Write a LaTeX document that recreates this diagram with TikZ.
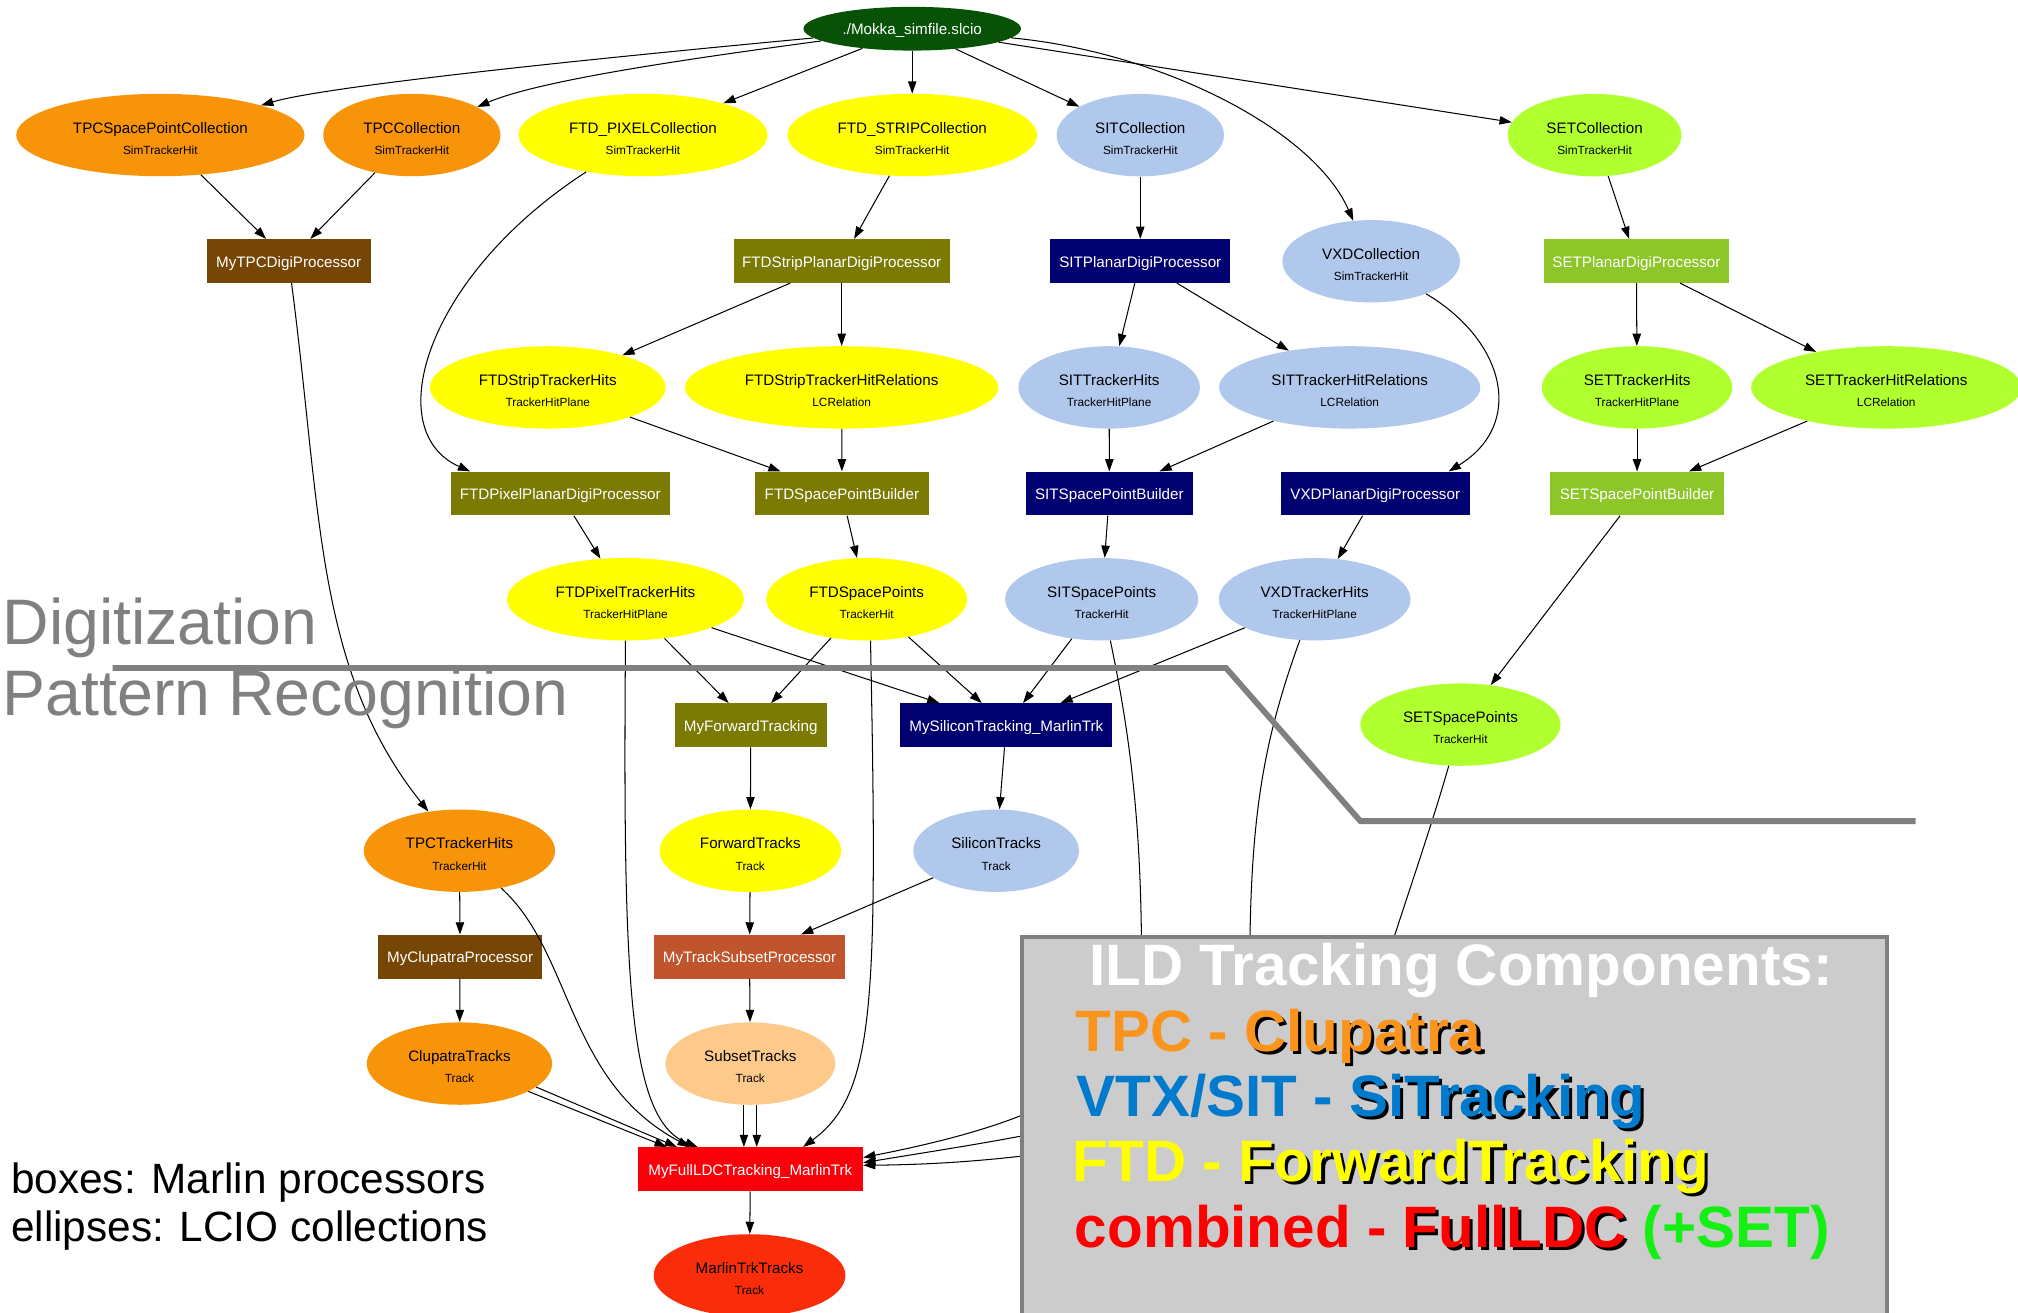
\documentclass[tikz,border=0pt]{standalone}
\usepackage{fontspec}
\setmainfont{Liberation Sans}
\usetikzlibrary{shapes.geometric,arrows.meta}
\definecolor{corange}{RGB}{248,148,10}
\definecolor{cyellow}{RGB}{255,255,0}
\definecolor{cblue}{RGB}{176,200,236}
\definecolor{cgy}{RGB}{176,255,46}
\definecolor{cmokka}{RGB}{8,82,8}
\definecolor{cbrown}{RGB}{117,70,6}
\definecolor{colive}{RGB}{122,122,4}
\definecolor{cnavy}{RGB}{0,0,112}
\definecolor{cyg}{RGB}{140,198,40}
\definecolor{csienna}{RGB}{192,84,44}
\definecolor{cpeach}{RGB}{253,202,140}
\definecolor{cred}{RGB}{250,0,10}
\definecolor{cmarlin}{RGB}{250,45,10}
\definecolor{cgray}{RGB}{128,128,128}
\definecolor{cbox}{RGB}{204,204,204}
\definecolor{ttpc}{RGB}{250,148,28}
\definecolor{tblue}{RGB}{0,122,204}
\definecolor{tyellow}{RGB}{255,255,0}
\definecolor{tred}{RGB}{255,0,0}
\definecolor{tgreen}{RGB}{20,240,20}
\newcommand\mkcoll[7]{%
  \node[coll, fill=#5, minimum width=#4pt] (#1) at (#2,#3) {};
  \node[mainlab] (#1-m) at ([yshift=1.5pt]#1.center) {#6};
  \node[sublab] (#1-s) at ([yshift=-15pt]#1.center) {#7};
}
\newcommand\mkproc[6]{%
  \node[proc, fill=#5, minimum width=#4pt] (#1) at (#2,#3) {#6};
}
\newcommand\shw[2]{\leavevmode\rlap{\hspace{2.5pt}\raisebox{-2.5pt}{\color{black}#2}}{\color{#1}#2}}
\begin{document}
\begin{tikzpicture}[x=1pt,y=-1pt,
  coll/.style={ellipse, draw=none, inner sep=0pt, minimum height=64pt},
  mainlab/.style={inner sep=0pt, anchor=base, font=\fontsize{11.8}{14}\selectfont},
  sublab/.style={inner sep=0pt, anchor=base, font=\fontsize{9.2}{11}\selectfont},
  proc/.style={rectangle, draw=none, inner sep=0pt, minimum height=34pt, text=white,
    font=\fontsize{11.8}{14}\selectfont, text height=9.7pt, text depth=0pt},
  conn/.style={draw=black, line width=0.8pt, -{Triangle[length=9.5pt,width=6.5pt]}},
  phase/.style={inner sep=0pt, anchor=base west, text=cgray, font=\fontsize{50}{60}\selectfont},
  legend/.style={inner sep=0pt, anchor=base west, text=black, font=\fontsize{32.9}{38}\selectfont},
  ildtext/.style={inner sep=0pt, anchor=base west, font=\fontsize{45.4}{54}\selectfont\bfseries}
]
\useasboundingbox (0,0) rectangle (1568,1020);
\fill[white] (0,0) rectangle (1568,1020);

% source
\node[coll, fill=cmokka, minimum width=169pt, minimum height=34pt] (mokka) at (708.8,22.3) {};
\node[mainlab, text=white] (mokka-t) at ([yshift=-4.3pt]mokka.center) {./Mokka\_simfile.slcio};

% collections
\mkcoll{tpcsp}{124.6}{104.9}{224}{corange}{TPCSpacePointCollection}{SimTrackerHit}
\mkcoll{tpcc}{320}{104.9}{137.7}{corange}{TPCCollection}{SimTrackerHit}
\mkcoll{ftdpix}{499.6}{104.9}{193.6}{cyellow}{FTD\_PIXELCollection}{SimTrackerHit}
\mkcoll{ftdstrip}{708.8}{104.9}{194}{cyellow}{FTD\_STRIPCollection}{SimTrackerHit}
\mkcoll{sitc}{886}{105}{130}{cblue}{SITCollection}{SimTrackerHit}
\mkcoll{setc}{1239}{105}{135}{cgy}{SETCollection}{SimTrackerHit}
\mkcoll{vxdc}{1065.4}{203}{138}{cblue}{VXDCollection}{SimTrackerHit}
\mkcoll{fsth}{425.6}{301}{183}{cyellow}{FTDStripTrackerHits}{TrackerHitPlane}
\mkcoll{fstr}{654}{301}{243.5}{cyellow}{FTDStripTrackerHitRelations}{LCRelation}
\mkcoll{sith}{861.8}{301}{141}{cblue}{SITTrackerHits}{TrackerHitPlane}
\mkcoll{sitr}{1048.7}{301}{203}{cblue}{SITTrackerHitRelations}{LCRelation}
\mkcoll{seth}{1272}{301}{148}{cgy}{SETTrackerHits}{TrackerHitPlane}
\mkcoll{setr}{1465.6}{301}{210}{cgy}{SETTrackerHitRelations}{LCRelation}
\mkcoll{fpth}{486}{465.6}{184}{cyellow}{FTDPixelTrackerHits}{TrackerHitPlane}
\mkcoll{ftdsp}{673.4}{465.6}{156}{cyellow}{FTDSpacePoints}{TrackerHit}
\mkcoll{sitsp}{856}{465.6}{150}{cblue}{SITSpacePoints}{TrackerHit}
\mkcoll{vxdth}{1021.5}{465.6}{149}{cblue}{VXDTrackerHits}{TrackerHitPlane}
\mkcoll{setsp}{1134.8}{563}{155.5}{cgy}{SETSpacePoints}{TrackerHit}
\mkcoll{tpcth}{357}{661}{148.6}{corange}{TPCTrackerHits}{TrackerHit}
\mkcoll{fwdt}{583}{661}{141}{cyellow}{ForwardTracks}{Track}
\mkcoll{silt}{774}{661}{128.7}{cblue}{SiliconTracks}{Track}
\mkcoll{clupt}{357}{826.4}{144}{corange}{ClupatraTracks}{Track}
\mkcoll{subt}{583}{826.4}{132}{cpeach}{SubsetTracks}{Track}
\mkcoll{mtt}{582.4}{991}{149}{cmarlin}{MarlinTrkTracks}{Track}

% processors
\mkproc{mytpc}{224.3}{202.8}{127.4}{cbrown}{MyTPCDigiProcessor}
\mkproc{fsdp}{654}{202.8}{168}{colive}{FTDStripPlanarDigiProcessor}
\mkproc{sitdp}{886}{202.8}{140}{cnavy}{SITPlanarDigiProcessor}
\mkproc{setdp}{1271.5}{202.8}{144}{cyg}{SETPlanarDigiProcessor}
\mkproc{fpdp}{435.3}{383.5}{170}{colive}{FTDPixelPlanarDigiProcessor}
\mkproc{fspb}{654.2}{383.5}{135.6}{colive}{FTDSpacePointBuilder}
\mkproc{sitspb}{862}{383.5}{129.7}{cnavy}{SITSpacePointBuilder}
\mkproc{vxddp}{1068.6}{383.5}{147}{cnavy}{VXDPlanarDigiProcessor}
\mkproc{setspb}{1272}{383.5}{135}{cyg}{SETSpacePointBuilder}
\mkproc{myfwd}{583.3}{563.5}{118}{colive}{MyForwardTracking}
\mkproc{mysil}{781.9}{563.5}{165}{cnavy}{MySiliconTracking\_MarlinTrk}
\mkproc{myclu}{357.5}{743.3}{127.6}{cbrown}{MyClupatraProcessor}
\mkproc{mysub}{582.4}{743.3}{149}{csienna}{MyTrackSubsetProcessor}
\mkproc{myfull}{583}{908.4}{175}{cred}{MyFullLDCTracking\_MarlinTrk}

% connectors
\draw[conn] (mokka) .. controls (520,40) and (260,65) .. (tpcsp);
\draw[conn] (mokka) .. controls (540,45) and (420,62) .. (tpcc);
\draw[conn] (mokka) -- (ftdpix);
\draw[conn] (mokka) -- (ftdstrip);
\draw[conn] (mokka) -- (sitc);
\draw[conn] (mokka) .. controls (900,40) and (1020,100) .. (vxdc);
\draw[conn] (mokka) -- (setc);
\draw[conn] (tpcsp) -- (mytpc);
\draw[conn] (tpcc) -- (mytpc);
\draw[conn] (ftdpix) .. controls (330,215) and (295,335) .. ([xshift=-70pt]fpdp.north);
\draw[conn] (ftdstrip) -- (fsdp);
\draw[conn] (sitc) -- (sitdp);
\draw[conn] (setc) -- (setdp);
\draw[conn] (mytpc) .. controls (250,400) and (245,520) .. (tpcth);
\draw[conn] (fsdp) -- (fsth);
\draw[conn] (fsdp) -- (fstr);
\draw[conn] (sitdp) -- (sith);
\draw[conn] (sitdp) -- (sitr);
\draw[conn] (setdp) -- (seth);
\draw[conn] (setdp) -- (setr);
\draw[conn] (vxdc) .. controls (1170,265) and (1185,330) .. ([xshift=57pt]vxddp.north);
\draw[conn] (fsth) -- (fspb);
\draw[conn] (fstr) -- (fspb);
\draw[conn] (sith) -- (sitspb);
\draw[conn] (sitr) -- (sitspb);
\draw[conn] (seth) -- (setspb);
\draw[conn] (setr) -- (setspb);
\draw[conn] (fpdp) -- (fpth);
\draw[conn] (fspb) -- (ftdsp);
\draw[conn] (sitspb) -- (sitsp);
\draw[conn] (vxddp) -- (vxdth);
\draw[conn] (setspb) -- (setsp);
\draw[conn] (fpth) -- (myfwd);
\draw[conn] (fpth) -- (mysil);
\draw[conn] (fpth.south) .. controls (484,760) and (488,870) .. ([xshift=-41pt]myfull.north);
\draw[conn] (ftdsp) -- (myfwd);
\draw[conn] (ftdsp) -- (mysil);
\draw[conn] ([xshift=3pt]ftdsp.south) .. controls (682,780) and (680,850) .. ([xshift=41pt]myfull.north);
\draw[conn] (sitsp) -- (mysil);
\draw[conn] (vxdth) -- (mysil);
\draw[conn] (sitsp) .. controls (880,580) and (887,650) .. (887,750) .. controls (887,830) and (830,868) .. ([yshift=9pt]myfull.east);
\draw[conn] (vxdth) .. controls (980,580) and (971,640) .. (971,760) .. controls (971,860) and (850,874) .. ([yshift=5pt]myfull.east);
\draw[conn] (setsp) .. controls (1110,650) and (1085,720) .. (1070,770) .. controls (1050,860) and (850,904) .. ([yshift=3pt]myfull.east);
\draw[conn] (myfwd) -- (fwdt);
\draw[conn] (mysil) -- (silt);
\draw[conn] (tpcth) -- (myclu);
\draw[conn] (tpcth) .. controls (445,740) and (440,840) .. ([xshift=-47pt]myfull.north);
\draw[conn] (fwdt) -- (mysub);
\draw[conn] (silt) -- (mysub);
\draw[conn] (myclu) -- (clupt);
\draw[conn] (mysub) -- (subt);
\draw[conn] (clupt.-22) -- ([xshift=-65pt]myfull.north);
\draw[conn] (clupt.-17) -- ([xshift=-57pt]myfull.north);
\draw[conn] ([xshift=-5pt]subt.south) -- ([xshift=-5pt]myfull.north);
\draw[conn] ([xshift=5pt]subt.south) -- ([xshift=5pt]myfull.north);
\draw[conn] (myfull) -- (mtt);

% overlay
\draw[cgray, line width=4.5pt, line join=miter] (87.6,519) -- (952.6,519) -- (1057,638) -- (1488.4,638);
\node[phase] (digi) at (2,501) {Digitization};
\node[phase] (patrec) at (2,556) {Pattern Recognition};
\node[legend] (leg1) at (8.5,927.3) {boxes: Marlin processors};
\node[legend] (leg2) at (8.5,964.6) {ellipses: LCIO collections};

\filldraw[fill=cbox, draw=cgray, line width=3pt] (794,728) rectangle (1466,1040);
\node[ildtext, text=white] (ildtitle) at (846,766) {ILD Tracking Components:};
\node[ildtext] (ildtpc) at (835.5,817) {\textcolor{ttpc}{TPC - }\shw{ttpc}{Clupatra}};
\node[ildtext] (ildsi) at (836.5,867.5) {\textcolor{tblue}{VTX/SIT - }\shw{tblue}{SiTracking}};
\node[ildtext] (ildftd) at (833.5,918) {\textcolor{tyellow}{FTD - }\shw{tyellow}{ForwardTracking}};
\node[ildtext] (ildfull) at (835,969) {\textcolor{tred}{combined - }\shw{tred}{FullLDC} \textcolor{tgreen}{(+SET)}};
\end{tikzpicture}
\end{document}
